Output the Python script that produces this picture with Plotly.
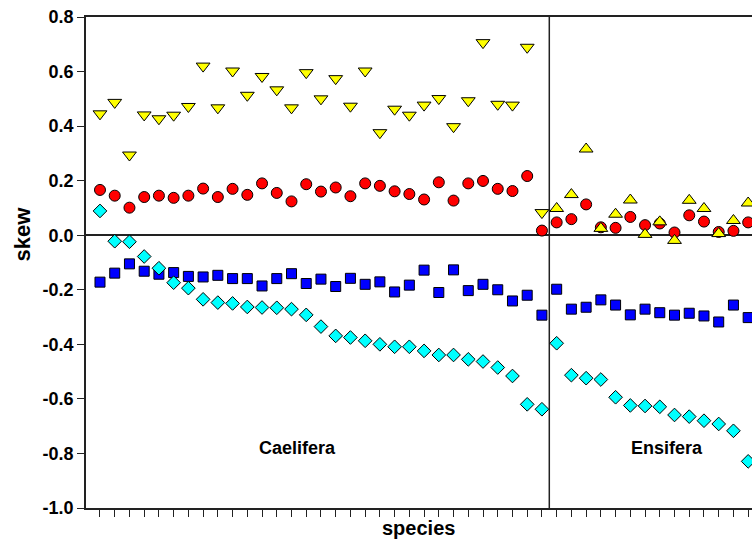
import plotly.graph_objects as go

# ---- data ----
n_caelifera = 31
n_ensifera = 14
species = list(range(1, n_caelifera + n_ensifera + 1))

yellow_caelifera = [0.445, 0.487, 0.294, 0.441, 0.427, 0.440, 0.472, 0.620, 0.467, 0.602,
                    0.513, 0.582, 0.533, 0.467, 0.596, 0.500, 0.574, 0.473, 0.602, 0.376,
                    0.462, 0.440, 0.477, 0.501, 0.398, 0.493, 0.706, 0.480, 0.477, 0.689, 0.083]
yellow_ensifera = [0.098, 0.149, 0.316, 0.025, 0.077, 0.129, 0.003, 0.049, -0.019, 0.128,
                   0.098, 0.006, 0.054, 0.118]

red_caelifera = [0.166, 0.145, 0.101, 0.140, 0.145, 0.137, 0.145, 0.171, 0.140, 0.170,
                 0.148, 0.190, 0.155, 0.124, 0.187, 0.160, 0.175, 0.143, 0.190, 0.181,
                 0.161, 0.151, 0.131, 0.194, 0.127, 0.190, 0.199, 0.170, 0.162, 0.217, 0.017]
red_ensifera = [0.047, 0.059, 0.113, 0.029, 0.027, 0.067, 0.037, 0.043, 0.010, 0.073,
                0.050, 0.012, 0.016, 0.047]

blue_caelifera = [-0.172, -0.139, -0.105, -0.132, -0.143, -0.137, -0.151, -0.153, -0.147, -0.159,
                  -0.159, -0.186, -0.159, -0.141, -0.177, -0.161, -0.188, -0.158, -0.180, -0.171,
                  -0.208, -0.183, -0.128, -0.210, -0.127, -0.203, -0.180, -0.200, -0.241, -0.220, -0.293]
blue_ensifera = [-0.198, -0.271, -0.264, -0.237, -0.256, -0.292, -0.271, -0.284, -0.293, -0.286,
                 -0.296, -0.318, -0.256, -0.302]

cyan_caelifera = [0.089, -0.022, -0.024, -0.078, -0.121, -0.174, -0.194, -0.235, -0.247, -0.250,
                  -0.263, -0.265, -0.266, -0.271, -0.292, -0.335, -0.369, -0.375, -0.387, -0.400,
                  -0.409, -0.409, -0.424, -0.439, -0.439, -0.455, -0.463, -0.485, -0.516, -0.620, -0.638]
cyan_ensifera = [-0.396, -0.513, -0.524, -0.529, -0.594, -0.624, -0.626, -0.629, -0.659, -0.665,
                 -0.680, -0.692, -0.717, -0.829]

ytick_vals = [-1.0, -0.8, -0.6, -0.4, -0.2, 0.0, 0.2, 0.4, 0.6, 0.8]
ytick_text = ["-1.0", "-0.8", "-0.6", "-0.4", "-0.2", "0.0", "0.2", "0.4", "0.6", "0.8"]
group_labels = ["Caelifera", "Ensifera"]

# ---- figure ----
FONT = "Liberation Sans, Arial, Helvetica"
edge = dict(color="black", width=1)
fig = go.Figure()

def add(y, symbol, color, size):
    fig.add_trace(go.Scatter(
        x=species, y=y, mode="markers", showlegend=False, hoverinfo="skip",
        marker=dict(symbol=symbol, color=color, size=size, line=edge)))

add(blue_caelifera + blue_ensifera, "square", "#0000FF", 10)
add(cyan_caelifera + cyan_ensifera, "diamond", "#00FFFF", 10.5)
add(red_caelifera + red_ensifera, "circle", "#FF0000", 11)
yellow_symbols = ["triangle-down"] * n_caelifera + ["triangle-up"] * n_ensifera
add(yellow_caelifera + yellow_ensifera, yellow_symbols, "#FFFF00", 12)

split = n_caelifera + 0.5
fig.add_shape(type="line", xref="x", yref="paper", x0=split, x1=split, y0=0, y1=1,
              line=dict(color="#222", width=1.5), layer="below")

for xpos, lab in zip([14.4, 39.5], group_labels):
    fig.add_annotation(x=xpos, y=-0.78, xref="x", yref="y", text="<b>" + lab + "</b>",
                       xanchor="center", yanchor="middle", showarrow=False,
                       font=dict(size=18, color="black", family=FONT))

fig.add_annotation(x=-0.096, y=0.557, xref="paper", yref="paper", text="<b>skew</b>",
                   textangle=-90, xanchor="center", yanchor="middle", showarrow=False,
                   font=dict(size=22, color="black", family=FONT))
fig.add_annotation(x=0.4985, y=-0.041, xref="paper", yref="paper", text="<b>species</b>",
                   xanchor="center", yanchor="middle", showarrow=False,
                   font=dict(size=20, color="black", family=FONT))

fig.update_layout(
    width=752, height=543,
    margin=dict(l=86, r=0, t=17, b=35),
    paper_bgcolor="white", plot_bgcolor="white",
    font=dict(family=FONT, color="black"),
    xaxis=dict(range=[0.05, 45.26], tickmode="array", tickvals=species,
               showticklabels=False, ticks="outside", ticklen=7, tickwidth=1,
               tickcolor="#222", showline=True, linecolor="#222", linewidth=1.5,
               mirror=True, showgrid=False, zeroline=False),
    yaxis=dict(range=[-1.0, 0.8], tickmode="array", tickvals=ytick_vals, ticktext=ytick_text,
               ticks="outside", ticklen=7, tickwidth=1, tickcolor="#222",
               ticklabeloverflow="allow",
               tickfont=dict(size=18, color="black", family=FONT, weight="bold"),
               showline=True, linecolor="#222", linewidth=1.5, showgrid=False,
               zeroline=True, zerolinecolor="#222", zerolinewidth=1.5),
)

fig.write_html("out.html", config={"displayModeBar": False},
               post_script="document.body.style.margin='0';document.body.style.overflow='hidden';")
